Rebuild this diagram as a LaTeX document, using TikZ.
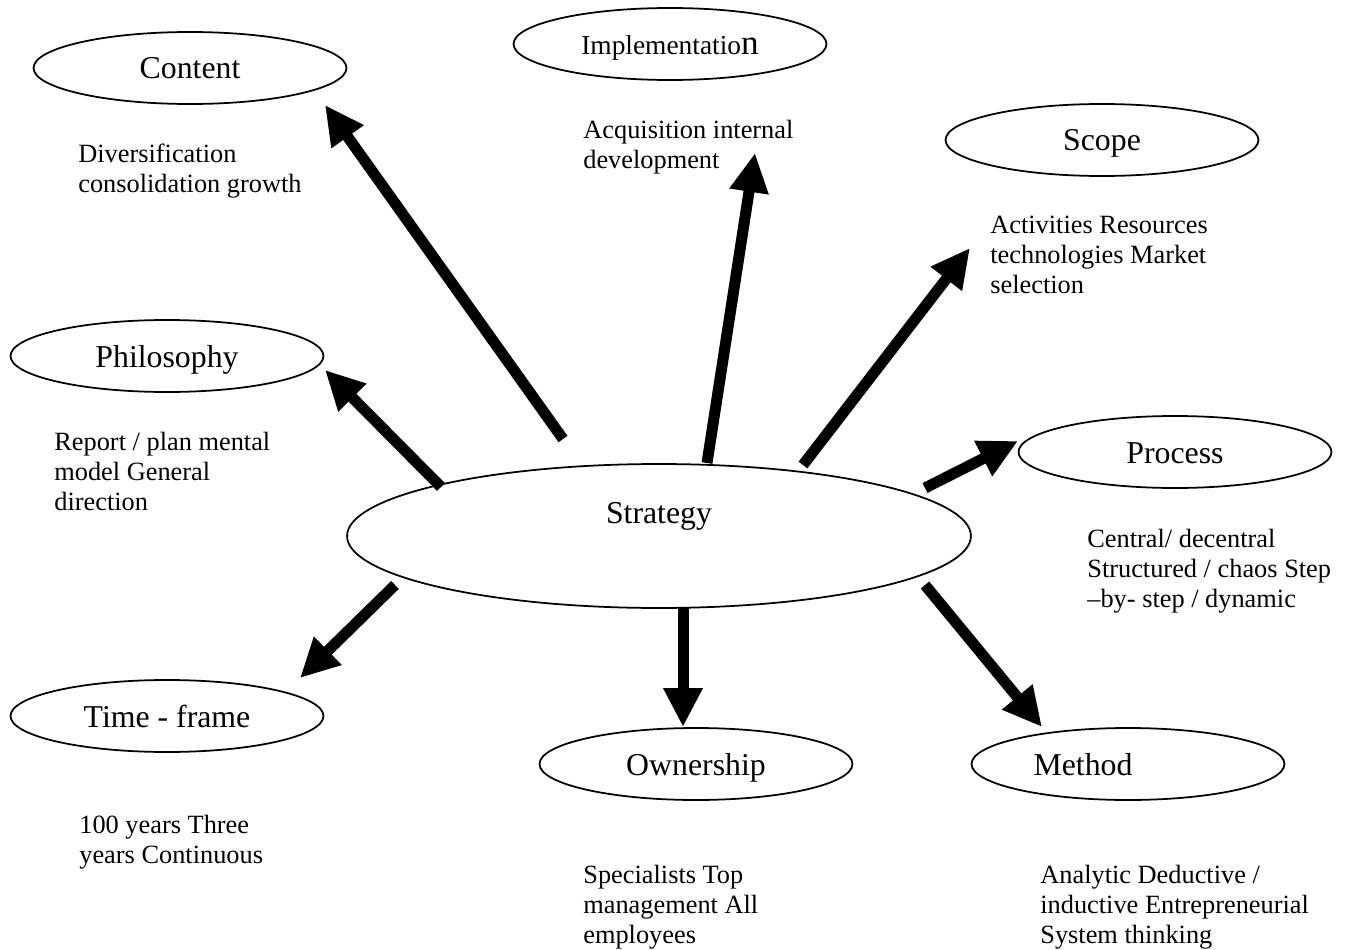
\documentclass[tikz,border=0pt]{standalone}
\usepackage{fontspec}
\setmainfont{Liberation Serif}
\usetikzlibrary{shapes.geometric,arrows.meta}
\begin{document}
\begin{tikzpicture}[x=0.02cm,y=-0.02cm,
  oval/.style={draw, ellipse, line width=1pt, inner sep=0pt,
    minimum width=6.26cm, minimum height=1.44cm,
    text height=0.44cm, text depth=0pt,
    font=\fontsize{18.1}{21}\selectfont},
  desc/.style={anchor=base west, align=left, inner sep=0pt,
    font=\fontsize{15}{17}\selectfont},
  bigarrow/.style={line width=0.22cm,
    -{Triangle[width=0.74cm,length=0.78cm]}}]
\useasboundingbox (0,0) rectangle (1350,950);

% ellipses
\node[oval] (content) at (190,68) {Content};
\node[oval, font=\fontsize{15.6}{18}\selectfont] (impl) at (670,44)
  {Implementatio{\fontsize{20}{20}\selectfont n}};
\node[oval] (scope) at (1102,140) {Scope};
\node[oval] (philo) at (167,356) {Philosophy};
\node[oval] (process) at (1175,452) {Process};
\node[oval, minimum width=12.48cm, minimum height=2.88cm,
  text height=0pt, text depth=0.52cm] (strategy) at (659,536) {Strategy};
\node[oval] (time) at (167,716) {Time - frame};
\node[oval] (owner) at (696,764) {Ownership};
\node[oval] (method) at (1128,764) {Method\rule{1.8cm}{0pt}};

% descriptions (base = baseline of the last line)
\node[desc] (contentd) at (78,192) {Diversification\\consolidation growth};
\node[desc] (impld) at (583,168) {Acquisition internal\\development};
\node[desc] (scoped) at (990,293) {Activities Resources\\technologies Market\\selection};
\node[desc] (philod) at (54,510) {Report / plan mental\\model General\\direction};
\node[desc] (processd) at (1087,607) {Central/ decentral\\Structured / chaos Step\\–by- step / dynamic};
\node[desc] (timed) at (79,863) {100 years Three\\years Continuous};
\node[desc] (ownerd) at (583,943) {Specialists Top\\management All\\employees};
\node[desc] (methodd) at (1040,943) {Analytic Deductive /\\inductive Entrepreneurial\\System thinking};

% arrow end points
\coordinate (s1) at (563,439); \coordinate (e1) at (325,105);
\coordinate (s2) at (707,463); \coordinate (e2) at (755,153);
\coordinate (s3) at (803,465); \coordinate (e3) at (970,248);
\coordinate (s4) at (441,487); \coordinate (e4) at (325,370);
\coordinate (s5) at (925,488); \coordinate (e5) at (1018,441);
\coordinate (s6) at (395,585); \coordinate (e6) at (300,678);
\coordinate (s7) at (683,608); \coordinate (e7) at (683,727);
\coordinate (s8) at (925,585); \coordinate (e8) at (1042,727);

\draw[bigarrow] (s1) -- (e1);
\draw[bigarrow] (s2) -- (e2);
\draw[bigarrow] (s3) -- (e3);
\draw[bigarrow] (s4) -- (e4);
\draw[bigarrow] (s5) -- (e5);
\draw[bigarrow] (s6) -- (e6);
\draw[bigarrow] (s7) -- (e7);
\draw[bigarrow] (s8) -- (e8);
\end{tikzpicture}
\end{document}
